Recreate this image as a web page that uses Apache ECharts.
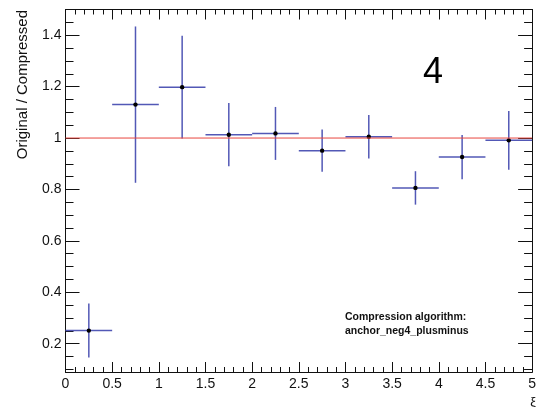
<!DOCTYPE html>
<html><head><meta charset="utf-8">
<script src="https://cdn.jsdelivr.net/npm/echarts@6/dist/echarts.min.js"></script>
<style>html,body{margin:0;padding:0;background:#fff}#c{width:539px;height:407px}</style>
</head><body><div id="c"></div>
<script>
// ---- data ----
const binCenters = [0.25, 0.75, 1.25, 1.75, 2.25, 2.75, 3.25, 3.75, 4.25, 4.75];
const binHalfWidths = [0.25, 0.25, 0.25, 0.25, 0.25, 0.25, 0.25, 0.25, 0.25, 0.25];
const ratioValues = [0.251, 1.130, 1.198, 1.013, 1.018, 0.951, 1.005, 0.806, 0.926, 0.991];
const ratioErrors = [0.105, 0.304, 0.200, 0.123, 0.103, 0.082, 0.085, 0.065, 0.086, 0.114];
const refLineX = [0, 5];
const refLineY = [1, 1];
const yMajorTicks = [0.2, 0.4, 0.6, 0.8, 1, 1.2, 1.4];
const yMinorTicks = [0.1, 0.15, 0.25, 0.3, 0.35, 0.45, 0.5, 0.55, 0.65, 0.7, 0.75, 0.85, 0.9, 0.95, 1.05, 1.1, 1.15, 1.25, 1.3, 1.35, 1.45, 1.5];
const xRange = [0, 5];
const yRange = [0.09, 1.5];
const yTitle = 'Original / Compressed';
const xTitle = 'ξ';
const panelLabel = '4';
const noteLines = ['Compression algorithm:', 'anchor_neg4_plusminus'];

const FONT = '"Liberation Sans", Arial, Helvetica, sans-serif';
const tickColor = '#111';

const chart = echarts.init(document.getElementById('c'), null, {renderer: 'canvas'});

function xAx(pos, labels) {
  return {
    type: 'value', position: pos, min: xRange[0], max: xRange[1], interval: 0.5,
    axisLine: {show: true, onZero: false, lineStyle: {color: tickColor, width: 1}},
    axisTick: {show: true, inside: true, length: 10, lineStyle: {color: tickColor}},
    minorTick: {show: true, splitNumber: 5, length: 5, lineStyle: {color: tickColor}},
    splitLine: {show: false}, minorSplitLine: {show: false},
    axisLabel: labels ? {show: true, margin: 5, fontFamily: FONT, fontSize: 14, color: '#111',
      formatter: v => String(+v.toFixed(1))} : {show: false}
  };
}
function yAx(pos, vals, len, labels) {
  return {
    type: 'value', position: pos, min: yRange[0], max: yRange[1], offset: 0,
    axisLine: {show: true, onZero: false, lineStyle: {color: tickColor, width: 1}},
    axisTick: {show: true, inside: true, length: len, customValues: vals, lineStyle: {color: tickColor}},
    splitLine: {show: false},
    axisLabel: labels ? {show: true, customValues: vals, margin: 4, fontFamily: FONT, fontSize: 14, color: '#111',
      formatter: v => String(+v.toFixed(1))} : {show: false, customValues: vals}
  };
}

const errData = binCenters.map((x, i) => [x, ratioValues[i], binHalfWidths[i], ratioErrors[i]]);

chart.setOption({
  animation: false,
  backgroundColor: '#fff',
  grid: {left: 65.5, right: 5, top: 9.5, bottom: 35, containLabel: false},
  xAxis: [xAx('bottom', true), xAx('top', false)],
  yAxis: [yAx('left', yMajorTicks, 14, true), yAx('left', yMinorTicks, 8, false),
          yAx('right', yMajorTicks, 14, false), yAx('right', yMinorTicks, 8, false)],
  series: [
    {
      type: 'custom', xAxisIndex: 0, yAxisIndex: 0, z: 2,
      data: errData,
      renderItem: function (params, api) {
        const x = api.value(0), y = api.value(1), hw = api.value(2), e = api.value(3);
        const l = api.coord([x - hw, y]), r = api.coord([x + hw, y]);
        const t = api.coord([x, y + e]), b = api.coord([x, y - e]);
        const c = api.coord([x, y]);
        const st = {stroke: '#5258b6', lineWidth: 1.5};
        return {type: 'group', children: [
          {type: 'line', shape: {x1: l[0], y1: l[1], x2: r[0], y2: r[1]}, style: st},
          {type: 'line', shape: {x1: t[0], y1: t[1], x2: b[0], y2: b[1]}, style: st},
          {type: 'circle', shape: {cx: c[0], cy: c[1], r: 2.2}, style: {fill: '#000'}}
        ]};
      }
    },
    {
      type: 'line', xAxisIndex: 0, yAxisIndex: 0, z: 3,
      data: refLineX.map((x, i) => [x, refLineY[i]]),
      symbol: 'none', lineStyle: {color: '#e8463f', width: 1}
    }
  ],
  graphic: [
    {type: 'text', x: 23, y: 10, rotation: Math.PI / 2,
      style: {text: yTitle, align: 'right', verticalAlign: 'middle', font: '15px ' + FONT, fill: '#111'}},
    {type: 'text', x: 536, y: 402,
      style: {text: xTitle, align: 'right', verticalAlign: 'middle', font: '13px ' + FONT, fill: '#111'}},
    {type: 'text', x: 433, y: 73,
      style: {text: panelLabel, align: 'center', verticalAlign: 'middle', font: '36px ' + FONT, fill: '#000'}},
    {type: 'text', x: 345, y: 317,
      style: {text: noteLines[0], align: 'left', verticalAlign: 'middle', font: 'bold 10.5px ' + FONT, fill: '#111'}},
    {type: 'text', x: 345, y: 331.5,
      style: {text: noteLines[1], align: 'left', verticalAlign: 'middle', font: 'bold 10.5px ' + FONT, fill: '#111'}}
  ]
});
</script></body></html>
